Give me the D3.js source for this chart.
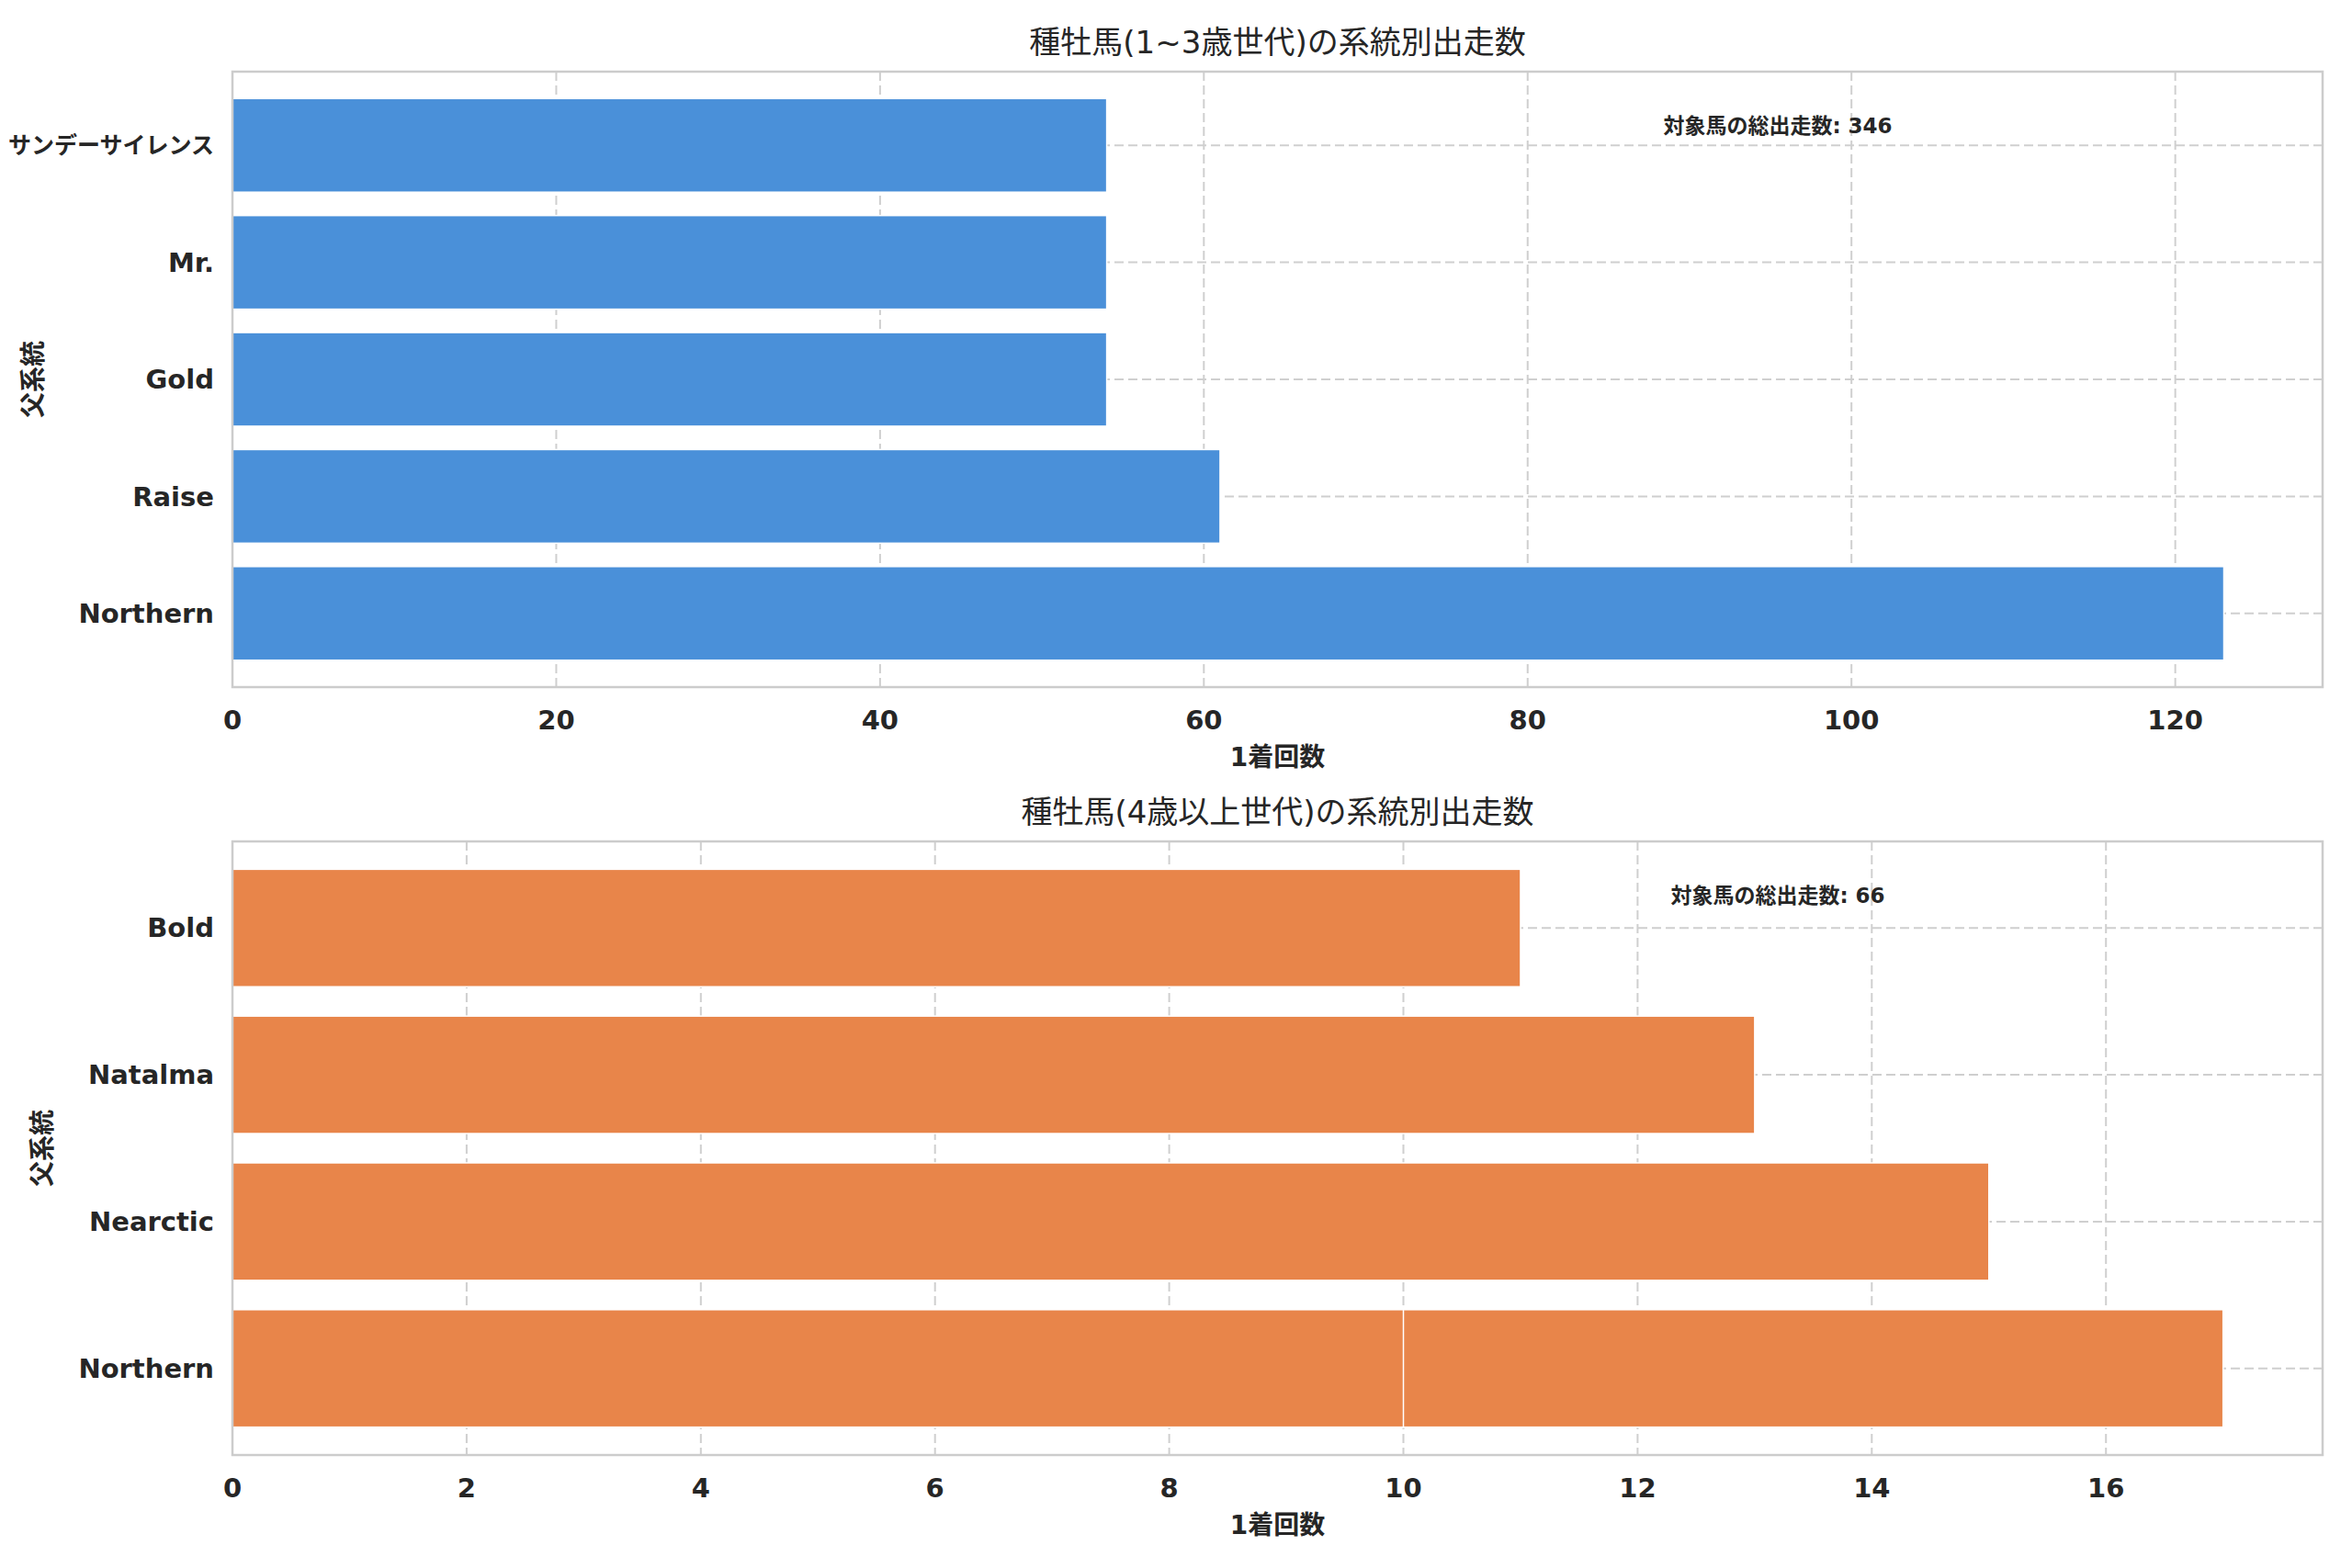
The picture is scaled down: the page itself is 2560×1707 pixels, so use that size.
<!DOCTYPE html>
<html><head><meta charset="utf-8">
<script src="https://cdn.jsdelivr.net/npm/d3@7"></script>
<style>body{margin:0;background:#fff}text{font-family:"DejaVu Sans","Noto Sans CJK JP",sans-serif;fill:#262626}</style>
</head><body><svg id="c" width="2560" height="1707"></svg>
<script>
// data
var topNames = ['Northern', 'Raise', 'Gold', 'Mr.', 'サンデーサイレンス'];
var topValues = [123, 61, 54, 54, 54];
var botNames = ['Northern', 'Nearctic', 'Natalma', 'Bold'];
var botValues = [17, 15, 13, 11];
var botExtra = [{name: 'Northern', value: 10}];
var topTicks = [0, 20, 40, 60, 80, 100, 120];
var botTicks = [0, 2, 4, 6, 8, 10, 12, 14, 16];

var svg = d3.select('#c');
var L = 253, R = 2528;

function panel(cfg) {
    var g = svg.append('g');
    var x = d3.scaleLinear().domain([0, cfg.xmax]).range([L, R]);
    var n = cfg.names.length;
    var y = d3.scaleLinear().domain([-cfg.pad, n - 1 + cfg.pad]).range([cfg.bottom, cfg.top]);
    var bh = (y(0) - y(1)) * 0.8;
    // grid
    g.selectAll('.vg').data(cfg.ticks).enter().append('line')
        .attr('x1', d => x(d)).attr('x2', d => x(d)).attr('y1', cfg.top).attr('y2', cfg.bottom)
        .attr('stroke', '#cfcfcf').attr('stroke-width', 2).attr('stroke-dasharray', '10,5');
    g.selectAll('.hg').data(cfg.names).enter().append('line')
        .attr('x1', L).attr('x2', R).attr('y1', (d, i) => y(i)).attr('y2', (d, i) => y(i))
        .attr('stroke', '#cfcfcf').attr('stroke-width', 2).attr('stroke-dasharray', '10,5');
    var bars = cfg.names.map((d, i) => ({name: d, value: cfg.values[i], i: i}));
    (cfg.extra || []).forEach(e => bars.push({name: e.name, value: e.value, i: cfg.names.indexOf(e.name)}));
    g.selectAll('.bar').data(bars).enter().append('rect')
        .attr('x', x(0)).attr('y', d => y(d.i) - bh / 2)
        .attr('width', d => x(d.value) - x(0)).attr('height', bh)
        .attr('fill', cfg.color).attr('stroke', '#fff').attr('stroke-width', 1.5);
    g.append('rect').attr('x', L).attr('y', cfg.top).attr('width', R - L).attr('height', cfg.bottom - cfg.top)
        .attr('fill', 'none').attr('stroke', '#cccccc').attr('stroke-width', 2.5);
    g.selectAll('.xt').data(cfg.ticks).enter().append('text')
        .attr('x', d => x(d)).attr('y', cfg.bottom + 46).attr('text-anchor', 'middle')
        .attr('font-size', 29).attr('font-weight', 'bold').text(d => d);
    g.selectAll('.yt').data(cfg.names).enter().append('text')
        .attr('x', L - 20).attr('y', (d, i) => y(i)).attr('dy', '0.35em').attr('text-anchor', 'end')
        .attr('font-size', d => d.length > 8 && /[^\x00-\x7f]/.test(d) ? 25 : 29)
        .attr('font-weight', 'bold').text(d => d);
    g.append('text').attr('x', (L + R) / 2).attr('y', cfg.top - 20).attr('text-anchor', 'middle')
        .attr('font-size', 34).text(cfg.title);
    g.append('text').attr('x', (L + R) / 2).attr('y', cfg.bottom + 86).attr('text-anchor', 'middle')
        .attr('font-size', 28).attr('font-weight', 'bold').text('1着回数');
    g.append('text').attr('transform', 'translate(' + cfg.ylx + ',' + (cfg.top + cfg.bottom) / 2 + ') rotate(-90)')
        .attr('text-anchor', 'middle').attr('font-size', 28).attr('font-weight', 'bold').text('父系統');
    g.append('text').attr('x', 1935).attr('y', cfg.top + 67).attr('text-anchor', 'middle')
        .attr('font-size', 23).attr('font-weight', 'bold').text('対象馬の総出走数: ' + cfg.total);
}

panel({names: topNames, values: topValues, ticks: topTicks, xmax: 129.1, pad: 0.63,
    top: 78, bottom: 748, color: '#4a90d9', title: '種牡馬(1~3歳世代)の系統別出走数', total: 346, ylx: 46});
panel({names: botNames, values: botValues, extra: botExtra, ticks: botTicks, xmax: 17.85, pad: 0.59,
    top: 916, bottom: 1584, color: '#e8854a', title: '種牡馬(4歳以上世代)の系統別出走数', total: 66, ylx: 56});
</script></body></html>
